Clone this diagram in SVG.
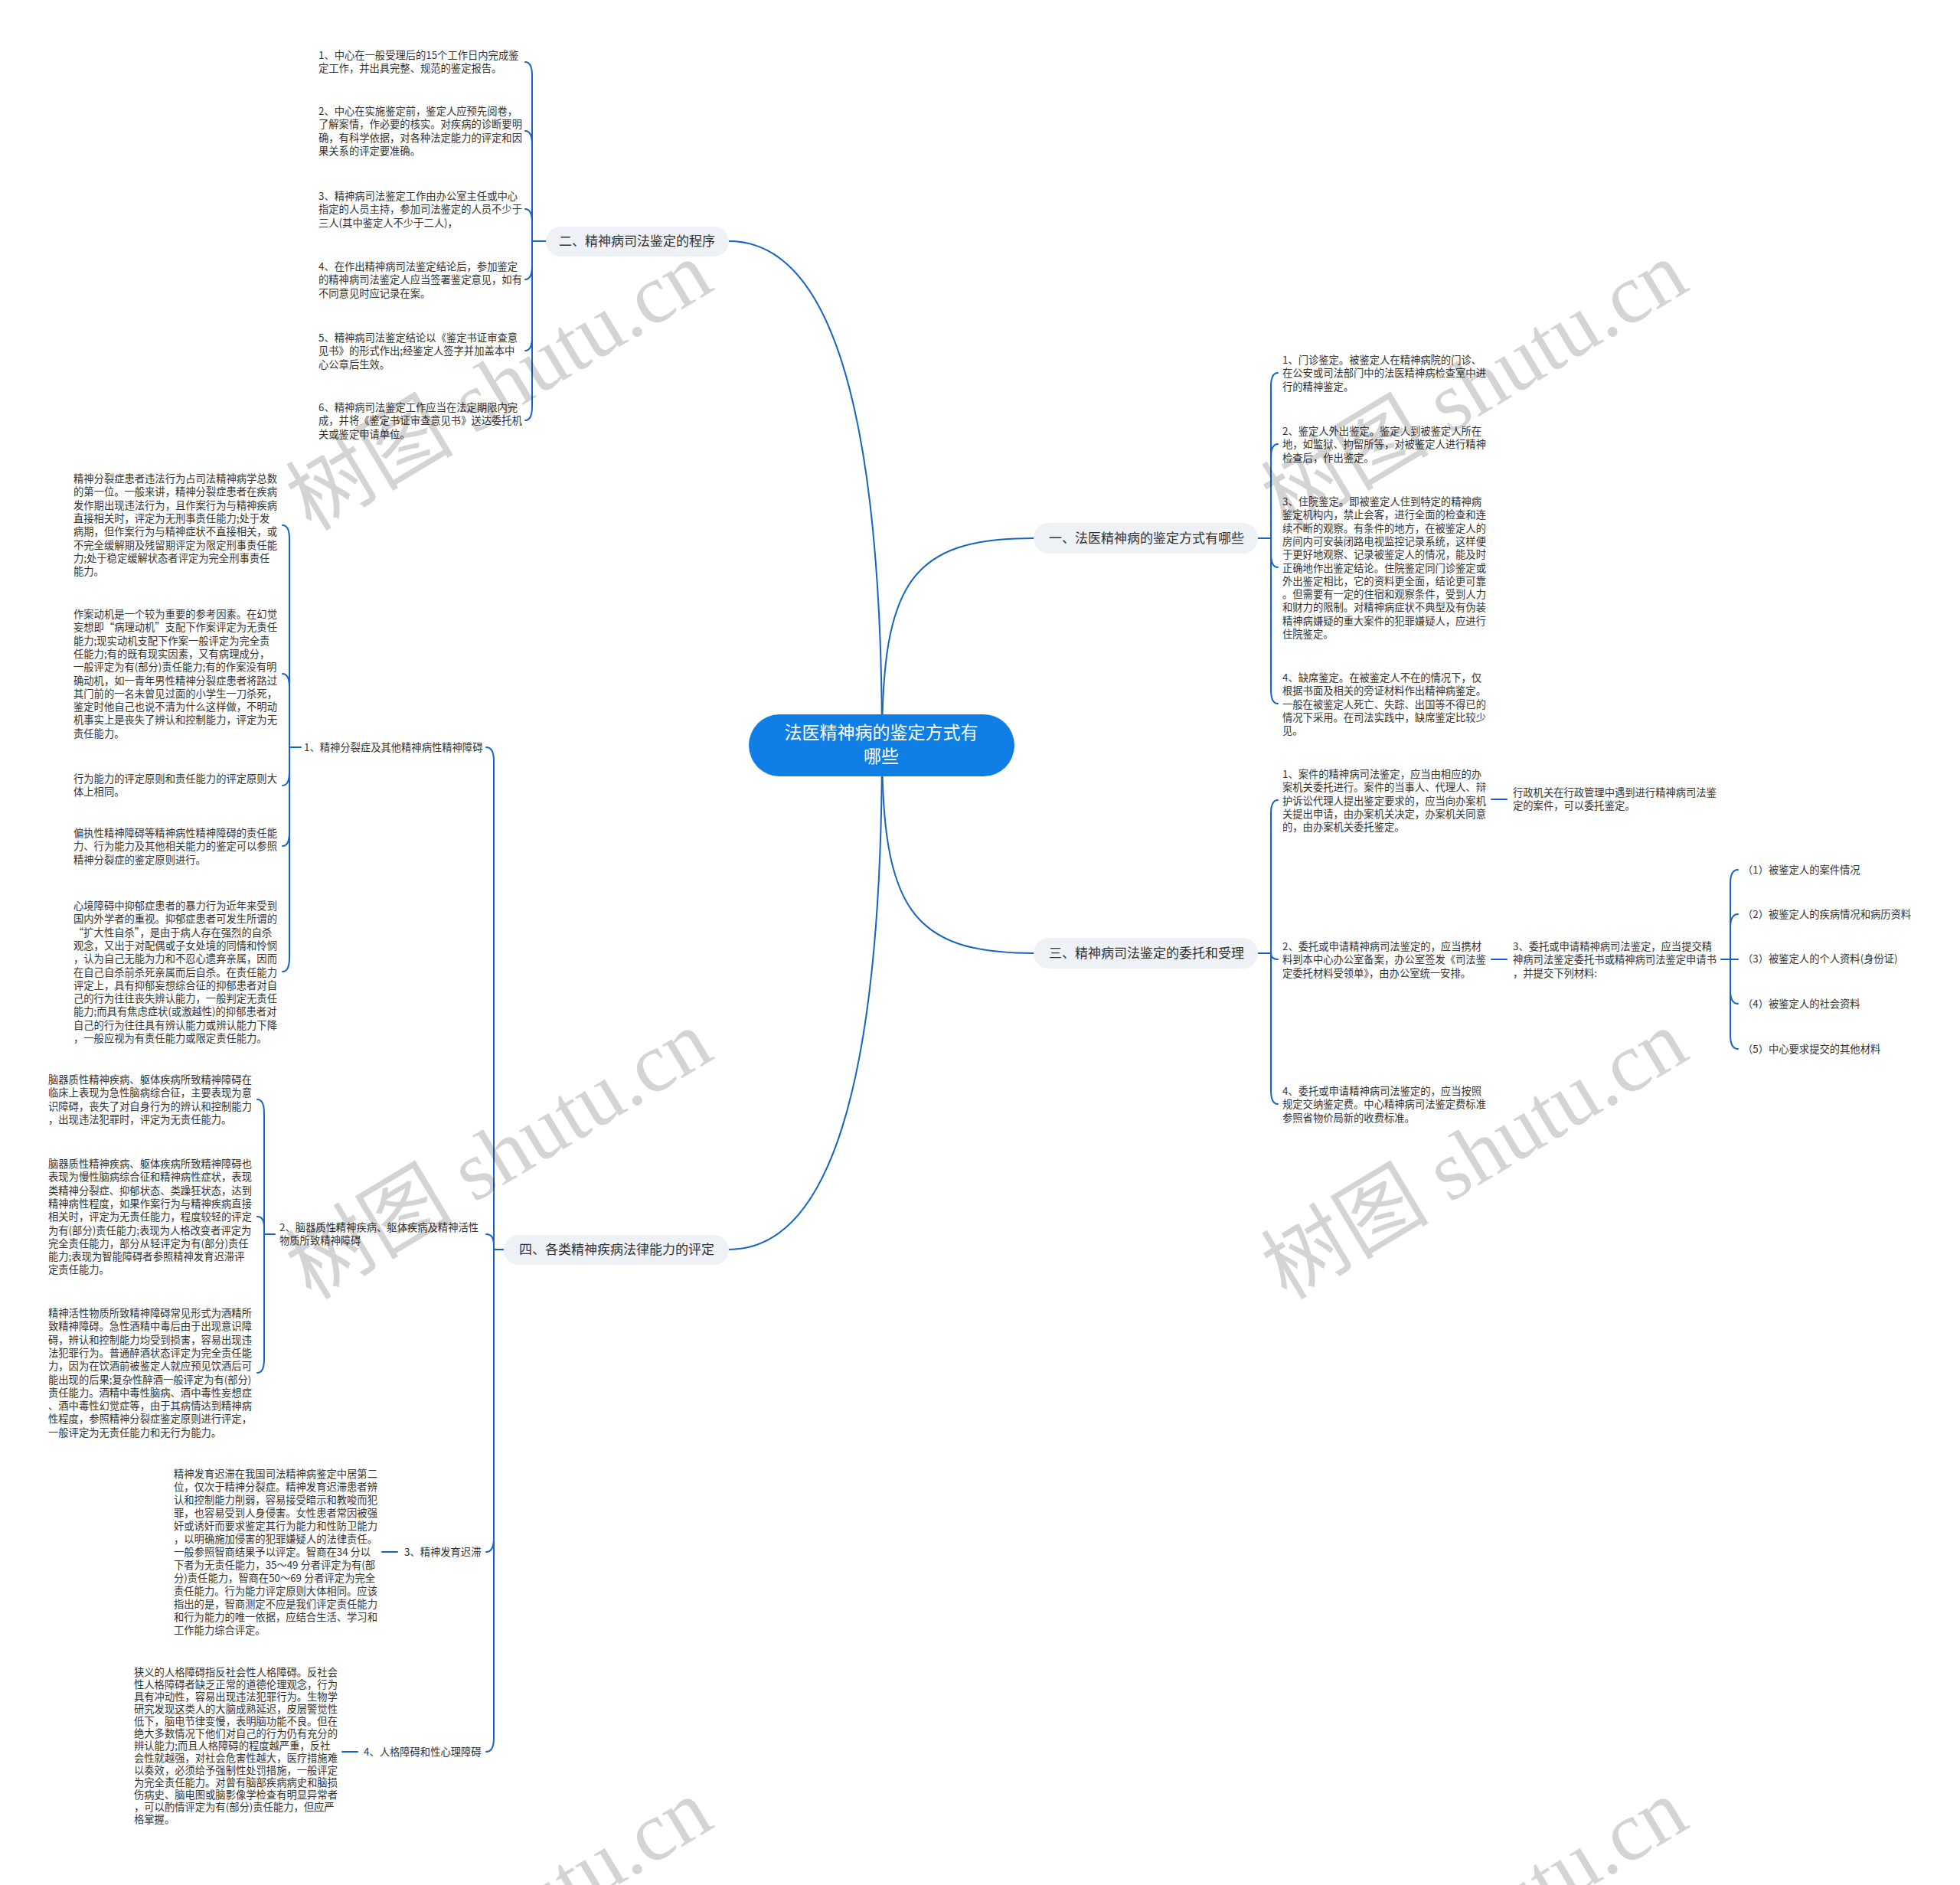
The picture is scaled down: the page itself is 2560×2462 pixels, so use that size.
<svg xmlns="http://www.w3.org/2000/svg" width="2560" height="2462" viewBox="0 0 2560 2462">
<style>
.t{font-family:"Noto Sans CJK SC","Noto Sans",sans-serif;font-size:13.3px;fill:#333}
.b{font-family:"Noto Sans CJK SC","Noto Sans",sans-serif;font-size:17px;fill:#333}
.c{font-family:"Noto Sans CJK SC","Noto Sans",sans-serif;font-size:23px;fill:#fff;text-anchor:middle}
.ln{fill:none;stroke:#1565c0;stroke-width:2;stroke-linecap:round}
.pill{fill:#eef1f6}
.wm{font-family:"Liberation Serif","Noto Sans CJK SC",serif;font-size:110px;fill:#000;fill-opacity:0.17;text-anchor:middle}
</style>
<rect width="2560" height="2462" fill="#fff"/>
<g id="connectors">
<path class="ln" d="M1152 973 C1152 760 1190 703 1350 703"/>
<path class="ln" d="M1152 973 C1152 1186 1190 1245 1350 1245"/>
<path class="ln" d="M1152 973 C1152 520 1080 315 952 315"/>
<path class="ln" d="M1152 973 C1152 1426 1080 1632 952 1632"/>
<!-- branch 二 -->
<path class="ln" d="M713 315 H695"/>
<path class="ln" d="M695 315 V99 Q695 81 686 81"/>
<path class="ln" d="M695 315 V189 Q695 171 686 171"/>
<path class="ln" d="M695 315 V291 Q695 273 686 273"/>
<path class="ln" d="M695 315 V347 Q695 365 686 365"/>
<path class="ln" d="M695 315 V440 Q695 458 686 458"/>
<path class="ln" d="M695 315 V531 Q695 549 686 549"/>
<!-- branch 四 -->
<path class="ln" d="M658 1632 H645"/>
<path class="ln" d="M645 1632 V994 Q645 976 635 976"/>
<path class="ln" d="M645 1632 V1626 Q645 1612 635 1612"/>
<path class="ln" d="M645 1632 V2009 Q645 2027 635 2027"/>
<path class="ln" d="M645 1632 V2270 Q645 2288 635 2288"/>
<!-- sub 1 -->
<path class="ln" d="M393 976 H378"/>
<path class="ln" d="M378 976 V704 Q378 686 369 686"/>
<path class="ln" d="M378 976 V898 Q378 880 369 880"/>
<path class="ln" d="M378 976 V1008 Q378 1026 369 1026"/>
<path class="ln" d="M378 976 V1087 Q378 1105 369 1105"/>
<path class="ln" d="M378 976 V1251 Q378 1269 369 1269"/>
<!-- sub 2 -->
<path class="ln" d="M359 1612 H345"/>
<path class="ln" d="M345 1612 V1454 Q345 1436 336 1436"/>
<path class="ln" d="M345 1612 V1603 Q345 1589 336 1589"/>
<path class="ln" d="M345 1612 V1775 Q345 1793 336 1793"/>
<!-- sub 3, 4 -->
<path class="ln" d="M499 2027 H519"/>
<path class="ln" d="M447 2288 H467"/>
<!-- branch 一 -->
<path class="ln" d="M1643 703 H1660"/>
<path class="ln" d="M1660 703 V505 Q1660 487 1669 487"/>
<path class="ln" d="M1660 703 V598 Q1660 580 1669 580"/>
<path class="ln" d="M1660 703 V723 Q1660 741 1669 741"/>
<path class="ln" d="M1660 703 V901 Q1660 919 1669 919"/>
<!-- branch 三 -->
<path class="ln" d="M1643 1245 H1660"/>
<path class="ln" d="M1660 1245 V1063 Q1660 1045 1669 1045"/>
<path class="ln" d="M1660 1245 Q1660 1253 1669 1253"/>
<path class="ln" d="M1660 1245 V1424 Q1660 1442 1669 1442"/>
<path class="ln" d="M1948 1044 H1968"/>
<path class="ln" d="M1948 1253 H1968"/>
<path class="ln" d="M2248 1253 H2260"/>
<path class="ln" d="M2260 1253 V1154 Q2260 1136 2270 1136"/>
<path class="ln" d="M2260 1253 V1212 Q2260 1194 2270 1194"/>
<path class="ln" d="M2260 1253 H2270"/>
<path class="ln" d="M2260 1253 V1293 Q2260 1311 2270 1311"/>
<path class="ln" d="M2260 1253 V1352 Q2260 1370 2270 1370"/>
</g>
<g id="center">
<rect x="978" y="933" width="347" height="81" rx="40.5" fill="#0f7fe6"/>
<text class="c" x="1151" y="965">法医精神病的鉴定方式有</text>
<text class="c" x="1151" y="996">哪些</text>
</g>
<g id="b1">
<rect class="pill" x="1350" y="683" width="293" height="40" rx="20"/>
<text class="b" x="1370" y="709">一、法医精神病的鉴定方式有哪些</text>
</g>
<g id="b2">
<rect class="pill" x="713" y="296" width="239" height="39" rx="19.5"/>
<text class="b" x="730" y="321">二、精神病司法鉴定的程序</text>
</g>
<g id="b3">
<rect class="pill" x="1350" y="1225" width="293" height="40" rx="20"/>
<text class="b" x="1370" y="1251">三、精神病司法鉴定的委托和受理</text>
</g>
<g id="b4">
<rect class="pill" x="658" y="1613" width="294" height="39" rx="19.5"/>
<text class="b" x="678" y="1638">四、各类精神疾病法律能力的评定</text>
</g>
<g id="b2-leaves">
<text class="t" y="77"><tspan x="416">1、中心在一般受理后的15个工作日内完成鉴</tspan><tspan x="416" dy="17.3">定工作，并出具完整、规范的鉴定报告。</tspan></text>
<text class="t" y="150"><tspan x="416">2、中心在实施鉴定前，鉴定人应预先阅卷，</tspan><tspan x="416" dy="17.3">了解案情，作必要的核实。对疾病的诊断要明</tspan><tspan x="416" dy="17.3">确，有科学依据，对各种法定能力的评定和因</tspan><tspan x="416" dy="17.3">果关系的评定要准确。</tspan></text>
<text class="t" y="261"><tspan x="416">3、精神病司法鉴定工作由办公室主任或中心</tspan><tspan x="416" dy="17.3">指定的人员主持，参加司法鉴定的人员不少于</tspan><tspan x="416" dy="17.3">三人(其中鉴定人不少于二人)，</tspan></text>
<text class="t" y="353"><tspan x="416">4、在作出精神病司法鉴定结论后，参加鉴定</tspan><tspan x="416" dy="17.3">的精神病司法鉴定人应当签署鉴定意见，如有</tspan><tspan x="416" dy="17.3">不同意见时应记录在案。</tspan></text>
<text class="t" y="446"><tspan x="416">5、精神病司法鉴定结论以《鉴定书证审查意</tspan><tspan x="416" dy="17.3">见书》的形式作出;经鉴定人签字并加盖本中</tspan><tspan x="416" dy="17.3">心公章后生效。</tspan></text>
<text class="t" y="537"><tspan x="416">6、精神病司法鉴定工作应当在法定期限内完</tspan><tspan x="416" dy="17.3">成，并将《鉴定书证审查意见书》送达委托机</tspan><tspan x="416" dy="17.3">关或鉴定申请单位。</tspan></text>
</g>
<g id="b4-sub1">
<text class="t" x="397" y="981">1、精神分裂症及其他精神病性精神障碍</text>
<text class="t" y="630"><tspan x="96">精神分裂症患者违法行为占司法精神病学总数</tspan><tspan x="96" dy="17.3">的第一位。一般来讲，精神分裂症患者在疾病</tspan><tspan x="96" dy="17.3">发作期出现违法行为，且作案行为与精神疾病</tspan><tspan x="96" dy="17.3">直接相关时，评定为无刑事责任能力;处于发</tspan><tspan x="96" dy="17.3">病期，但作案行为与精神症状不直接相关，或</tspan><tspan x="96" dy="17.3">不完全缓解期及残留期评定为限定刑事责任能</tspan><tspan x="96" dy="17.3">力;处于稳定缓解状态者评定为完全刑事责任</tspan><tspan x="96" dy="17.3">能力。</tspan></text>
<text class="t" y="807"><tspan x="96">作案动机是一个较为重要的参考因素。在幻觉</tspan><tspan x="96" dy="17.3">妄想即“病理动机”支配下作案评定为无责任</tspan><tspan x="96" dy="17.3">能力;现实动机支配下作案一般评定为完全责</tspan><tspan x="96" dy="17.3">任能力;有的既有现实因素，又有病理成分，</tspan><tspan x="96" dy="17.3">一般评定为有(部分)责任能力;有的作案没有明</tspan><tspan x="96" dy="17.3">确动机，如一青年男性精神分裂症患者将路过</tspan><tspan x="96" dy="17.3">其门前的一名未曾见过面的小学生一刀杀死，</tspan><tspan x="96" dy="17.3">鉴定时他自己也说不清为什么这样做，不明动</tspan><tspan x="96" dy="17.3">机事实上是丧失了辨认和控制能力，评定为无</tspan><tspan x="96" dy="17.3">责任能力。</tspan></text>
<text class="t" y="1022"><tspan x="96">行为能力的评定原则和责任能力的评定原则大</tspan><tspan x="96" dy="17.3">体上相同。</tspan></text>
<text class="t" y="1093"><tspan x="96">偏执性精神障碍等精神病性精神障碍的责任能</tspan><tspan x="96" dy="17.3">力、行为能力及其他相关能力的鉴定可以参照</tspan><tspan x="96" dy="17.3">精神分裂症的鉴定原则进行。</tspan></text>
<text class="t" y="1188"><tspan x="96">心境障碍中抑郁症患者的暴力行为近年来受到</tspan><tspan x="96" dy="17.3">国内外学者的重视。抑郁症患者可发生所谓的</tspan><tspan x="96" dy="17.3">“扩大性自杀”，是由于病人存在强烈的自杀</tspan><tspan x="96" dy="17.3">观念，又出于对配偶或子女处境的同情和怜悯</tspan><tspan x="96" dy="17.3">，认为自己无能为力和不忍心遗弃亲属，因而</tspan><tspan x="96" dy="17.3">在自己自杀前杀死亲属而后自杀。在责任能力</tspan><tspan x="96" dy="17.3">评定上，具有抑郁妄想综合征的抑郁患者对自</tspan><tspan x="96" dy="17.3">己的行为往往丧失辨认能力，一般判定无责任</tspan><tspan x="96" dy="17.3">能力;而具有焦虑症状(或激越性)的抑郁患者对</tspan><tspan x="96" dy="17.3">自己的行为往往具有辨认能力或辨认能力下降</tspan><tspan x="96" dy="17.3">，一般应视为有责任能力或限定责任能力。</tspan></text>
</g>
<g id="b4-sub2">
<text class="t" y="1608"><tspan x="365">2、脑器质性精神疾病、躯体疾病及精神活性</tspan><tspan x="365" dy="17.3">物质所致精神障碍</tspan></text>
<text class="t" y="1415"><tspan x="63">脑器质性精神疾病、躯体疾病所致精神障碍在</tspan><tspan x="63" dy="17.3">临床上表现为急性脑病综合征，主要表现为意</tspan><tspan x="63" dy="17.3">识障碍，丧失了对自身行为的辨认和控制能力</tspan><tspan x="63" dy="17.3">，出现违法犯罪时，评定为无责任能力。</tspan></text>
<text class="t" y="1525"><tspan x="63">脑器质性精神疾病、躯体疾病所致精神障碍也</tspan><tspan x="63" dy="17.3">表现为慢性脑病综合征和精神病性症状，表现</tspan><tspan x="63" dy="17.3">类精神分裂症、抑郁状态、类躁狂状态，达到</tspan><tspan x="63" dy="17.3">精神病性程度，如果作案行为与精神疾病直接</tspan><tspan x="63" dy="17.3">相关时，评定为无责任能力，程度较轻的评定</tspan><tspan x="63" dy="17.3">为有(部分)责任能力;表现为人格改变者评定为</tspan><tspan x="63" dy="17.3">完全责任能力，部分从轻评定为有(部分)责任</tspan><tspan x="63" dy="17.3">能力;表现为智能障碍者参照精神发育迟滞评</tspan><tspan x="63" dy="17.3">定责任能力。</tspan></text>
<text class="t" y="1720"><tspan x="63">精神活性物质所致精神障碍常见形式为酒精所</tspan><tspan x="63" dy="17.3">致精神障碍。急性酒精中毒后由于出现意识障</tspan><tspan x="63" dy="17.3">碍，辨认和控制能力均受到损害，容易出现违</tspan><tspan x="63" dy="17.3">法犯罪行为。普通醉酒状态评定为完全责任能</tspan><tspan x="63" dy="17.3">力，因为在饮酒前被鉴定人就应预见饮酒后可</tspan><tspan x="63" dy="17.3">能出现的后果;复杂性醉酒一般评定为有(部分)</tspan><tspan x="63" dy="17.3">责任能力。酒精中毒性脑病、酒中毒性妄想症</tspan><tspan x="63" dy="17.3">、酒中毒性幻觉症等，由于其病情达到精神病</tspan><tspan x="63" dy="17.3">性程度，参照精神分裂症鉴定原则进行评定，</tspan><tspan x="63" dy="17.3">一般评定为无责任能力和无行为能力。</tspan></text>
</g>
<g id="b4-sub3">
<text class="t" x="528" y="2032">3、精神发育迟滞</text>
<text class="t" y="1930"><tspan x="227">精神发育迟滞在我国司法精神病鉴定中居第二</tspan><tspan x="227" dy="17">位，仅次于精神分裂症。精神发育迟滞患者辨</tspan><tspan x="227" dy="17">认和控制能力削弱，容易接受暗示和教唆而犯</tspan><tspan x="227" dy="17">罪，也容易受到人身侵害。女性患者常因被强</tspan><tspan x="227" dy="17">奸或诱奸而要求鉴定其行为能力和性防卫能力</tspan><tspan x="227" dy="17">，以明确施加侵害的犯罪嫌疑人的法律责任。</tspan><tspan x="227" dy="17">一般参照智商结果予以评定。智商在34 分以</tspan><tspan x="227" dy="17">下者为无责任能力，35～49 分者评定为有(部</tspan><tspan x="227" dy="17">分)责任能力，智商在50～69 分者评定为完全</tspan><tspan x="227" dy="17">责任能力。行为能力评定原则大体相同。应该</tspan><tspan x="227" dy="17">指出的是，智商测定不应是我们评定责任能力</tspan><tspan x="227" dy="17">和行为能力的唯一依据，应结合生活、学习和</tspan><tspan x="227" dy="17">工作能力综合评定。</tspan></text>
</g>
<g id="b4-sub4">
<text class="t" x="475" y="2293">4、人格障碍和性心理障碍</text>
<text class="t" y="2189"><tspan x="175">狭义的人格障碍指反社会性人格障碍。反社会</tspan><tspan x="175" dy="16">性人格障碍者缺乏正常的道德伦理观念，行为</tspan><tspan x="175" dy="16">具有冲动性，容易出现违法犯罪行为。生物学</tspan><tspan x="175" dy="16">研究发现这类人的大脑成熟延迟，皮层警觉性</tspan><tspan x="175" dy="16">低下，脑电节律变慢，表明脑功能不良。但在</tspan><tspan x="175" dy="16">绝大多数情况下他们对自己的行为仍有充分的</tspan><tspan x="175" dy="16">辨认能力;而且人格障碍的程度越严重，反社</tspan><tspan x="175" dy="16">会性就越强，对社会危害性越大，医疗措施难</tspan><tspan x="175" dy="16">以奏效，必须给予强制性处罚措施，一般评定</tspan><tspan x="175" dy="16">为完全责任能力。对曾有脑部疾病病史和脑损</tspan><tspan x="175" dy="16">伤病史、脑电图或脑影像学检查有明显异常者</tspan><tspan x="175" dy="16">，可以酌情评定为有(部分)责任能力，但应严</tspan><tspan x="175" dy="16">格掌握。</tspan></text>
</g>
<g id="b1-leaves">
<text class="t" y="475"><tspan x="1675">1、门诊鉴定。被鉴定人在精神病院的门诊、</tspan><tspan x="1675" dy="17.3">在公安或司法部门中的法医精神病检查室中进</tspan><tspan x="1675" dy="17.3">行的精神鉴定。</tspan></text>
<text class="t" y="568"><tspan x="1675">2、鉴定人外出鉴定。鉴定人到被鉴定人所在</tspan><tspan x="1675" dy="17.3">地，如监狱、拘留所等，对被鉴定人进行精神</tspan><tspan x="1675" dy="17.3">检查后，作出鉴定。</tspan></text>
<text class="t" y="660"><tspan x="1675">3、住院鉴定。即被鉴定人住到特定的精神病</tspan><tspan x="1675" dy="17.3">鉴定机构内，禁止会客，进行全面的检查和连</tspan><tspan x="1675" dy="17.3">续不断的观察。有条件的地方，在被鉴定人的</tspan><tspan x="1675" dy="17.3">房间内可安装闭路电视监控记录系统，这样便</tspan><tspan x="1675" dy="17.3">于更好地观察、记录被鉴定人的情况，能及时</tspan><tspan x="1675" dy="17.3">正确地作出鉴定结论。住院鉴定同门诊鉴定或</tspan><tspan x="1675" dy="17.3">外出鉴定相比，它的资料更全面，结论更可靠</tspan><tspan x="1675" dy="17.3">。但需要有一定的住宿和观察条件，受到人力</tspan><tspan x="1675" dy="17.3">和财力的限制。对精神病症状不典型及有伪装</tspan><tspan x="1675" dy="17.3">精神病嫌疑的重大案件的犯罪嫌疑人，应进行</tspan><tspan x="1675" dy="17.3">住院鉴定。</tspan></text>
<text class="t" y="890"><tspan x="1675">4、缺席鉴定。在被鉴定人不在的情况下，仅</tspan><tspan x="1675" dy="17.3">根据书面及相关的旁证材料作出精神病鉴定。</tspan><tspan x="1675" dy="17.3">一般在被鉴定人死亡、失踪、出国等不得已的</tspan><tspan x="1675" dy="17.3">情况下采用。在司法实践中，缺席鉴定比较少</tspan><tspan x="1675" dy="17.3">见。</tspan></text>
</g>
<g id="b3-leaves">
<text class="t" y="1016"><tspan x="1675">1、案件的精神病司法鉴定，应当由相应的办</tspan><tspan x="1675" dy="17.3">案机关委托进行。案件的当事人、代理人、辩</tspan><tspan x="1675" dy="17.3">护诉讼代理人提出鉴定要求的，应当向办案机</tspan><tspan x="1675" dy="17.3">关提出申请，由办案机关决定，办案机关同意</tspan><tspan x="1675" dy="17.3">的，由办案机关委托鉴定。</tspan></text>
<text class="t" y="1040"><tspan x="1976">行政机关在行政管理中遇到进行精神病司法鉴</tspan><tspan x="1976" dy="17.3">定的案件，可以委托鉴定。</tspan></text>
<text class="t" y="1241"><tspan x="1675">2、委托或申请精神病司法鉴定的，应当携材</tspan><tspan x="1675" dy="17.3">料到本中心办公室备案，办公室签发《司法鉴</tspan><tspan x="1675" dy="17.3">定委托材料受领单》，由办公室统一安排。</tspan></text>
<text class="t" y="1241"><tspan x="1976">3、委托或申请精神病司法鉴定，应当提交精</tspan><tspan x="1976" dy="17.3">神病司法鉴定委托书或精神病司法鉴定申请书</tspan><tspan x="1976" dy="17.3">，并提交下列材料:</tspan></text>
<text class="t" x="2276" y="1141">（1）被鉴定人的案件情况</text>
<text class="t" x="2276" y="1199">（2）被鉴定人的疾病情况和病历资料</text>
<text class="t" x="2276" y="1257">（3）被鉴定人的个人资料(身份证)</text>
<text class="t" x="2276" y="1316">（4）被鉴定人的社会资料</text>
<text class="t" x="2276" y="1375">（5）中心要求提交的其他材料</text>
<text class="t" y="1430"><tspan x="1675">4、委托或申请精神病司法鉴定的，应当按照</tspan><tspan x="1675" dy="17.3">规定交纳鉴定费。中心精神病司法鉴定费标准</tspan><tspan x="1675" dy="17.3">参照省物价局新的收费标准。</tspan></text>
</g>
<g id="watermarks">
<text class="wm" transform="translate(653 506) rotate(-31)" y="35">树图 shutu.cn</text>
<text class="wm" transform="translate(1927 506) rotate(-31)" y="35">树图 shutu.cn</text>
<text class="wm" transform="translate(653 1510) rotate(-31)" y="35">树图 shutu.cn</text>
<text class="wm" transform="translate(1927 1510) rotate(-31)" y="35">树图 shutu.cn</text>
<text class="wm" transform="translate(653 2514) rotate(-31)" y="35">树图 shutu.cn</text>
<text class="wm" transform="translate(1927 2514) rotate(-31)" y="35">树图 shutu.cn</text>
</g>
</svg>
